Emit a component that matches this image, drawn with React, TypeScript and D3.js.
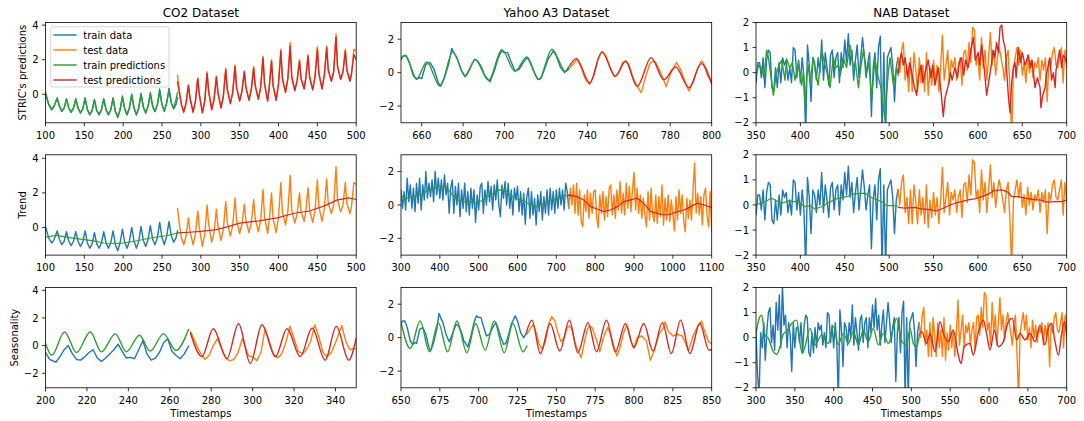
import React from "react";
import * as d3 from "d3";

type P = [number, number];

const BLUE = "#1f77b4";
const ORANGE = "#ff7f0e";
const GREEN = "#2ca02c";
const RED = "#d62728";

// ---------------- CO2 dataset ----------------
const co2TrainData: P[] = [
  [100, 0.05], [104, -0.6], [108, -0.9], [111, -0.7], [115, -0.2], [118, -0.7], [121, -1.0], [124, -0.8], [127, -0.25], [130, -0.8],
  [133, -1.05], [136, -0.8], [139, -0.25], [142, -0.8], [145, -1.1], [148, -0.85], [151, -0.2], [154, -0.9], [157, -1.2], [160, -0.95],
  [163, -0.3], [166, -0.95], [169, -1.2], [172, -0.9], [175, -0.25], [178, -0.9], [181, -1.2], [184, -0.9], [187, -0.2], [190, -1.0],
  [193, -1.35], [196, -0.9], [199, -0.1], [202, -0.85], [205, -1.2], [208, -0.8], [211, 0.0], [214, -0.8], [217, -1.2], [220, -0.8],
  [223, 0.05], [226, -0.75], [229, -1.1], [232, -0.7], [235, 0.1], [238, -0.7], [241, -1.0], [244, -0.6], [247, 0.3], [250, -0.6],
  [253, -1.0], [256, -0.5], [259, 0.35], [262, -0.5], [265, -0.85], [268, -0.6], [270, -0.2],
];
const co2TestData: P[] = [
  [270, 1.1], [272, 0.3], [275, -0.6], [278, -1.0], [281, -0.5], [284, 0.55], [286, -0.2], [290, -1.0], [293, -0.4], [296, 0.95],
  [298, 0.0], [302, -1.1], [305, -0.4], [308, 1.3], [310, 0.2], [314, -0.85], [317, -0.3], [320, 1.05], [322, 0.1], [326, -0.75],
  [329, -0.1], [332, 1.5], [334, 0.3], [338, -0.5], [341, 0.1], [344, 1.7], [346, 0.4], [350, -0.35], [353, 0.2], [356, 1.35],
  [358, 0.4], [362, -0.3], [365, 0.3], [368, 1.6], [370, 0.5], [374, -0.25], [377, 0.4], [380, 2.2], [382, 0.6], [386, -0.35],
  [388, 0.4], [391, 2.0], [393, 0.5], [397, -0.3], [400, 0.6], [403, 2.6], [405, 0.9], [409, 0.15], [412, 0.9], [415, 3.0],
  [417, 1.0], [421, 0.25], [424, 0.8], [427, 2.0], [429, 0.9], [433, 0.35], [435, 0.9], [438, 2.3], [440, 1.0], [444, 0.3],
  [447, 1.0], [450, 2.75], [452, 1.2], [456, 0.35], [459, 1.1], [462, 2.8], [464, 1.4], [468, 0.8], [471, 1.3], [474, 3.5],
  [476, 1.6], [480, 0.9], [483, 1.3], [486, 2.6], [488, 1.4], [492, 0.8], [494, 1.2], [497, 2.6], [500, 2.5],
];
const co2TrainPred: P[] = [
  [100, 0.1], [104, -0.55], [108, -0.85], [111, -0.7], [115, -0.25], [118, -0.7], [121, -0.95], [124, -0.8], [127, -0.3], [130, -0.8],
  [133, -1.0], [136, -0.8], [139, -0.3], [142, -0.8], [145, -1.05], [148, -0.85], [151, -0.25], [154, -0.9], [157, -1.15], [160, -0.95],
  [163, -0.35], [166, -0.95], [169, -1.15], [172, -0.9], [175, -0.3], [178, -0.9], [181, -1.15], [184, -0.9], [187, -0.25], [190, -1.0],
  [193, -1.3], [196, -0.9], [199, -0.2], [202, -0.85], [205, -1.15], [208, -0.8], [211, -0.05], [214, -0.8], [217, -1.15], [220, -0.8],
  [223, 0.0], [226, -0.75], [229, -1.05], [232, -0.7], [235, 0.0], [238, -0.7], [241, -1.0], [244, -0.6], [247, 0.1], [250, -0.6],
  [253, -0.95], [256, -0.5], [259, 0.2], [262, -0.5], [265, -0.8], [268, -0.3], [270, 0.1],
];
const co2TestPred: P[] = [
  [270, 0.7], [272, 0.2], [275, -0.6], [278, -1.05], [281, -0.5], [284, 0.5], [286, -0.2], [290, -1.05], [293, -0.4], [296, 0.9],
  [298, 0.0], [302, -1.05], [305, -0.4], [308, 1.2], [310, 0.2], [314, -0.9], [317, -0.3], [320, 1.0], [322, 0.1], [326, -0.8],
  [329, -0.1], [332, 1.4], [334, 0.3], [338, -0.55], [341, 0.1], [344, 1.6], [346, 0.4], [350, -0.4], [353, 0.2], [356, 1.3],
  [358, 0.4], [362, -0.35], [365, 0.3], [368, 1.5], [370, 0.5], [374, -0.3], [377, 0.4], [380, 2.1], [382, 0.6], [386, -0.4],
  [388, 0.4], [391, 1.9], [393, 0.5], [397, -0.35], [400, 0.6], [403, 2.5], [405, 0.9], [409, 0.1], [412, 0.9], [415, 2.8],
  [417, 1.0], [421, 0.2], [424, 0.8], [427, 1.9], [429, 0.9], [433, 0.3], [435, 0.9], [438, 2.2], [440, 1.0], [444, 0.25],
  [447, 1.0], [450, 2.6], [452, 1.2], [456, 0.3], [459, 1.1], [462, 2.7], [464, 1.4], [468, 0.75], [471, 1.3], [474, 3.3],
  [476, 1.6], [480, 0.85], [483, 1.3], [486, 2.5], [488, 1.4], [492, 0.75], [494, 1.2], [497, 2.3], [500, 2.0],
];
const co2TrainTrend: P[] = [
  [100, -0.57], [108, -0.5], [115, -0.46], [125, -0.55], [140, -0.65], [150, -0.7], [160, -0.76], [175, -0.9],
  [195, -0.93], [215, -0.8], [235, -0.61], [255, -0.48], [270, -0.33],
];
const co2TestTrend: P[] = [
  [270, -0.32], [285, -0.28], [300, -0.23], [320, -0.13], [335, 0.05], [350, 0.25], [375, 0.38], [400, 0.57],
  [420, 0.82], [440, 0.95], [460, 1.26], [475, 1.58], [490, 1.71], [500, 1.62],
];
const co2TrainSeasData: P[] = [
  [200, -0.5], [202, -1.0], [205, -1.2], [207, -0.8], [209, -0.3], [211, 0.0], [213, -0.6], [215, -1.0], [217, -1.05], [219, -0.8],
  [221, -0.5], [223, -0.3], [225, -0.9], [227, -1.15], [229, -0.9], [231, -0.6], [233, -0.3], [235, 0.1], [237, -0.4], [239, -0.9],
  [241, -0.85], [243, -0.95], [245, -0.3], [247, 0.35], [249, -0.6], [251, -1.05], [253, -0.9], [255, -0.5], [257, 0.2], [259, 0.5],
  [261, -0.4], [263, -0.7], [265, -0.95], [267, -0.6], [269, -0.05],
];
const co2TestSeasData: P[] = [
  [270, 1.0], [271, 0.7], [273, 0.0], [275, -0.6], [277, -1.0], [279, -0.7], [281, 0.0], [283, 0.5], [285, -0.2], [287, -0.9],
  [289, -1.1], [291, -1.0], [293, -0.5], [295, 0.5], [297, -0.3], [298, -0.75], [300, -0.8], [302, -1.1], [304, -0.5], [306, 1.2],
  [308, 0.3], [310, -0.6], [312, -0.9], [314, -0.6], [316, 0.2], [318, 1.4], [320, 0.5], [322, -0.4], [324, -0.6], [326, -0.3],
  [328, 0.3], [330, 1.5], [332, 0.6], [334, -0.5], [336, -0.8], [338, -0.5], [340, 0.2], [343, 1.45], [345, 0.3], [347, -0.3],
  [349, -0.2], [350, -0.25],
];
const co2TrainSeas: P[] = [
  [200, 0.15], [203, -0.7], [209.2, 0.98], [215, -0.5], [221.6, 0.98], [227, -0.45], [233.7, 0.85], [239, -0.45],
  [245.4, 0.75], [250.5, -0.4], [257, 0.85], [263, -0.35], [269, 1.15],
];
const co2TestSeas: P[] = [
  [270, 0.9], [275.5, -0.8], [281, 1.22], [287.6, -0.93], [293.2, 1.58], [298.9, -1.29], [304.5, 1.51], [311, -0.8],
  [316.6, 1.22], [323, -0.8], [328.7, 1.27], [335, -1.05], [340.4, 1.39], [346.4, -1.05], [350, 0.54],
];

// ---------------- Yahoo A3 dataset ----------------
const yahooTrainData: P[] = [
  [650, 0.8], [651, 1.0], [652.5, 1.0], [654, 0.6], [656, -0.2], [657.5, -0.4], [659, -0.3], [660, -0.35], [662, 0.5], [664, 0.6],
  [666, 0.2], [668, -0.6], [669, -0.8], [671, -0.3], [673, 0.5], [674.5, 1.45], [675.5, 1.2], [677, 0.9], [679, 0.2], [681, -0.25],
  [683, 0.2], [685.5, 0.8], [687, 0.7], [689, 0.3], [690.5, -0.2], [692, -0.4], [693, -0.55], [695, 0.1], [697, 0.9], [698.5, 1.3],
  [700, 1.2], [701.5, 1.2], [703, 0.7], [705, 0.1], [707, 0.2], [709, 0.6], [711, 0.9], [712, 0.7], [714, 0.1], [716, -0.4],
  [717.5, -0.35], [719, 0.1], [721, 0.8], [722.5, 1.1], [723.5, 1.3], [725, 1.0], [727, 0.3], [729, 0.0], [730, 0.15], [731, 0.35],
];
const yahooTestData: P[] = [
  [731, 0.2], [733, 0.5], [735, 0.8], [737, 0.3], [739, -0.4], [741, -0.7], [743, -0.2], [745, 0.8], [747, 1.25], [749, 1.0],
  [751, 0.3], [753, -0.25], [755, 0.0], [757, 0.6], [758.5, 0.7], [760, 0.5], [762, -0.3], [764, -0.8], [766, -1.2], [768, -0.3],
  [770, 0.5], [771.5, 0.7], [773, 0.6], [775, 0.1], [777, -0.5], [778, -0.85], [780, -0.1], [782, 0.4], [783, 0.6], [785, 0.2],
  [787, -0.5], [789, -1.1], [791, -0.6], [793, 0.2], [795, 0.7], [796, 0.6], [798, -0.2], [800, -0.6], [802, 0.0], [805, 0.1],
  [808, -0.2], [810.5, -1.35], [813, -0.8], [816, 0.2], [819, 0.6], [820, 0.95], [822, 0.4], [825, 0.1], [828, 0.2], [831, 0.1],
  [833, -0.3], [835, -0.8], [838, 0.1], [841, 0.7], [843.5, 1.0], [845, 0.5], [848, -0.25], [850, -0.35],
];
const yahooTrainPred: P[] = [
  [650, 0.84], [652, 1.04], [657.6, -0.36], [662.4, 0.64], [668.9, -0.82], [675, 1.24], [681, -0.22], [685.8, 0.78],
  [692.3, -0.46], [698.7, 1.38], [705, 0.08], [710.8, 0.94], [716.5, -0.42], [722.9, 1.4], [729.4, 0.08], [731, 0.2],
];
const yahooTestPred: P[] = [
  [731.5, 0.44], [734.7, 0.84], [741.1, -0.62], [747, 1.24], [753.5, -0.22], [758.4, 0.68], [764, -0.82], [770.8, 0.9],
  [776.9, -0.42], [782.6, 0.34], [789, -0.9], [795, 0.54], [800, -0.66],
];
// long Yahoo series (every 4 timestamps)
const yahooLongStart = 300;
const yahooLongStep = 4;
const yahooLongTrain: number[] = [
  0.9, -0.2, 0.8, -0.3, 1.6, 0.2, 1.2, -0.2, 1.0, -0.4,
  1.3, 0.1, 1.6, -0.3, 1.2, 0.3, 2.0, 0.4, 1.3, 0.5,
  1.5, 0.2, 2.0, 0.6, 1.6, 0.4, 1.5, 0.3, 1.8, 0.6,
  1.3, -0.5, 1.0, 1.5, -0.5, 1.1, 0.0, 1.3, -0.7, 0.9,
  -0.2, 1.3, -0.4, 0.8, -0.6, 1.0, -0.2, 0.9, -1.05, 0.6,
  -0.3, 1.1, 1.3, -0.5, 0.9, 0.0, 1.4, 0.2, 1.1, -0.3,
  1.2, 0.3, 1.5, 0.0, -0.7, 1.2, 0.4, 1.4, 0.0, 1.3,
  -0.2, 0.9, -0.6, 1.0, 0.3, 1.1, -0.4, 0.8, -0.6, 0.7,
  -1.15, 0.5, 1.0, -0.8, 0.8, -0.6, 0.4, -1.2, 0.6, -0.4,
  0.8, -0.9, 0.5, -0.5, 0.9, -0.6, 1.0, -0.3, 0.8, -0.5,
  0.9, -0.2, 1.0, 0.0, 0.9, -0.3, 1.3, 0.8, -0.2,
];
const yahooLongTestStart = 732;
const yahooLongTest: number[] = [
  -0.2, 1.0, 0.0, 1.2, -0.5, 1.3, -0.6, 0.9, -1.0, -1.3,
  0.6, -0.4, 0.9, -0.8, 0.7, -0.5, 0.8, 0.9, -0.8, -1.35,
  0.6, -0.5, 0.8, -0.9, 0.5, -0.7, 1.0, 1.2, -0.6, 0.6,
  -0.8, 0.9, -0.3, 1.4, -0.5, 0.7, -0.6, 1.3, -0.2, 1.1,
  -0.4, 0.9, 1.95, -0.3, 1.0, -0.5, 0.6, -0.8, 0.4, -0.6,
  -1.3, 0.8, -0.9, 1.0, -0.6, -1.0, 0.6, -1.1, 0.5, -0.7,
  1.2, -1.2, 0.4, -0.9, 0.6, -1.0, 0.3, -0.6, -1.55, 0.5,
  -0.9, 0.9, -0.5, 0.6, -1.0, -1.6, 0.4, -0.8, 0.3, -0.9,
  0.9, 2.5, -0.5, 0.7, -0.6, 0.5, -1.2, 0.6, 1.0, -0.6,
  -1.3, 0.8, -1.6,
];
const yahooTrainTrend: P[] = [
  [300, 0.6], [310, 0.36], [332, 0.5], [353, 0.6], [366, 0.84], [388, 1.04], [400, 1.16], [418, 1.0], [431, 0.64],
  [444, 0.3], [461, 0.2], [478, 0.2], [491, 0.1], [504, 0.2], [521, 0.5], [538, 0.7], [555, 0.9], [568, 0.9],
  [581, 0.6], [598, 0.36], [616, 0.24], [633, 0.0], [650, -0.1], [667, 0.1], [685, 0.3], [702, 0.4], [719, 0.54], [732, 0.56],
];
const yahooTestTrend: P[] = [
  [732, 0.6], [753, 0.5], [770, 0.3], [788, -0.1], [805, -0.24], [822, -0.4], [839, -0.3], [857, -0.1], [874, 0.2],
  [891, 0.3], [908, 0.4], [925, 0.1], [943, -0.4], [960, -0.5], [977, -0.6], [994, -0.56], [1012, -0.4], [1029, -0.3],
  [1046, -0.1], [1063, 0.1], [1080, 0.0], [1100, -0.16],
];
const yahooTrainSeas: P[] = [
  [650, 0.9], [656, -0.65], [662.3, 1.0], [668.3, -0.85], [674, 0.9], [680, -0.85], [686, 1.0], [692.4, -0.9],
  [698, 0.85], [704.2, -0.75], [710, 1.0], [716.5, -0.9], [722, 0.85], [728.5, -0.85], [731, -0.5],
];
const yahooTestSeas: P[] = [
  [731, 0.4], [734.3, 1.05], [739.7, -0.95], [746, 0.85], [752.2, -0.8], [758.4, 1.05], [763.8, -0.9], [770.4, 0.9],
  [775.8, -0.85], [782.3, 1.05], [788, -0.85], [794.5, 0.85], [799.9, -0.6], [806.3, 0.85], [812.2, -0.8], [818.2, 0.9],
  [824, -0.95], [830, 1.05], [836, -0.95], [842.3, 0.85], [848.3, -0.75], [850, -0.7],
];

// ---------------- NAB dataset (every 2 timestamps) ----------------
const nabTrainStart = 300;
const nabTestStart = 510;
const nabStep = 2;
const nabTrain: number[] = [
  0.2, -1.5, -2.3, 0.2, -0.4, 0.6, -0.9, 0.3, 1.0, 1.2, -0.2, 0.5, -0.5, 1.4, 0.3, 1.7, -0.4, 2.1, 0.5, 0.9, -0.4, 0.6, 0.1, -1.35, 0.6,
  -0.4, 0.4, 0.4, -0.2, 0.6, -0.6, 0.5, 0.9, 0.8, -0.6, -0.75, 0.2, -0.6, 0.4, -0.4, 0.6, 0.3, 0.5, -0.3, 0.2, -0.4, 1.0, 0.9, -0.2, 0.5,
  -0.4, 0.6, -0.2, -2.5, 1.1, 0.3, -1.15, 0.6, 0.4, -0.3, 0.6, 0.0, 1.3, -0.3, 0.8, 0.2, -0.5, 0.7, 0.9, -0.2, 0.6, 0.8, -0.4, 0.8, 0.2,
  1.3, 0.4, 1.55, 0.3, 0.9, -0.3, 0.5, 1.1, -0.2, 0.6, 1.4, 0.7, -0.2, 0.4, 0.8, -1.75, 0.2, 0.8, -0.6, 1.0, 1.45, -2.5, 0.8, -2.5, 0.6,
  0.8, 1.0, 0.3, -1.15, 0.2, 0.6,
];
const nabTest: number[] = [
  0.6, 0.0, 0.9, 1.2, -0.3, 0.3, -0.75, 0.6, -0.75, 0.8, 0.1, -0.75, 0.6, -0.4, 0.3, -0.75, 0.8, -0.9, 0.2, -0.5, 0.5, -0.4, 0.3, -0.75, 0.2,
  1.5, -0.3, 0.3, 0.9, -0.4, 0.5, 0.2, 0.6, -0.3, 0.3, 0.6, -0.5, 0.8, 0.9, 0.1, 1.2, 0.4, 1.8, 1.7, 0.3, 0.6, -0.3, 1.4, 0.2, 0.9,
  -0.3, 0.6, 1.6, 0.3, 0.9, -0.1, 0.6, 1.0, 0.6, 0.2, -0.3, 0.6, 0.9, -0.6, -2.5, 0.2, 0.6, 1.0, 0.3, 0.9, -0.1, 0.4, -0.4, 0.7, 0.0,
  0.5, -0.2, 0.4, 0.2, 0.6, -0.3, 0.5, 0.1, 0.6, -1.15, 0.5, 0.2, 0.8, 1.0, 0.3, 0.2, 0.6, 1.0, -0.4, 0.9, 0.2,
];
const nabTrainPred: P[] = [
  [350, -0.1], [353, 0.3], [356, 0.2], [359, -0.2], [362, 0.9], [364, 0.6], [367, -0.2], [369.5, -0.9], [373, 0.0], [376, 0.3],
  [379, 0.5], [382.7, -0.3], [384.5, 0.55], [388, 0.2], [391, 0.4], [394, -0.3], [397.7, 0.4], [401.4, -0.5], [403.3, 0.0], [405.2, -1.3],
  [407, -0.2], [409, 0.3], [410.8, -0.4], [414.6, 0.6], [417, 0.0], [420, -0.5], [424, 0.9], [427.8, 0.3], [430, 0.0], [433.4, -0.6],
  [437, 0.6], [440, 0.2], [442.7, 0.3], [445, -0.1], [448.3, 0.6], [452, 0.2], [454, 0.7], [455.9, 1.1], [459.7, 0.2], [462, 0.4],
  [465.4, -0.6], [468, 0.2], [471, 0.9], [474.7, 0.0], [477, 0.4], [480.3, -1.0], [484, 0.5], [487.8, -0.2], [490.8, -0.6], [493.4, -1.3],
  [495.3, -1.9], [497, -0.9], [499, 0.0], [501, 0.6], [504.8, -0.5], [508.5, 0.2], [510.3, -0.1],
];
const nabTestPred: P[] = [
  [510.3, 0.0], [512, 0.5], [514, 0.8], [516, 0.3], [518, 0.6], [521, -0.2], [523, 0.4], [525.4, 0.0], [528, -0.5], [531, -0.9],
  [533, -0.2], [536, 0.3], [538, -0.4], [540.4, 0.0], [544, 0.5], [547, -0.2], [549, 0.3], [551.6, -0.5], [555.4, 0.2], [558, -0.6],
  [561, -1.75], [563, -1.0], [566.7, -0.5], [569, 0.0], [571, -0.3], [574, 0.2], [577, -0.2], [579, 0.4], [581.5, 0.6], [584, -0.1],
  [586, 0.5], [589, 0.2], [592, 0.9], [594.8, 1.4], [597, 0.5], [600.5, 0.8], [602, 0.3], [604.2, 1.1], [607, 0.2], [609.8, -0.9],
  [612, -0.4], [615.5, 0.4], [617, 0.9], [619.2, 0.6], [621, 1.2], [623, 0.8], [624.9, 1.8], [626.8, 1.9], [628.5, 1.3], [630.6, 1.0],
  [632, 0.3], [634.4, -1.0], [636.2, -1.6], [638, -0.4], [640, 0.2], [641.8, 0.4], [643, -0.2], [645.6, 1.0], [648, 0.4], [650, 0.8],
  [653, 0.3], [656.8, 0.7], [659, 0.2], [661, 0.5], [664.3, -0.6], [667, -0.2], [670, -0.6], [671, -1.4], [673, -0.9], [675.6, -0.6],
  [677, -0.1], [679.3, 0.3], [681, 0.6], [683, -0.3], [685, 0.0], [686.9, -0.6], [688, 0.1], [690.6, 0.6], [692, 0.9], [694.4, 0.2],
  [696, 0.7], [698, 0.6], [700, 0.4],
];
const nabTrainTrend: P[] = [
  [350, 0.0], [360, 0.13], [367.6, 0.27], [371.4, 0.2], [379, 0.07], [386.4, 0.16], [394, 0.13], [399.6, 0.07], [405.2, -0.07],
  [410.8, -0.03], [416.5, -0.16], [424, -0.07], [431.5, 0.09], [439, 0.23], [446.7, 0.29], [452.3, 0.33], [458, 0.43],
  [465.4, 0.45], [473, 0.47], [478.4, 0.33], [484, 0.24], [491.6, 0.13], [497.2, -0.03], [502.8, -0.03], [509.6, -0.04],
];
const nabTestTrend: P[] = [
  [510.3, -0.1], [517.8, -0.13], [529, -0.1], [536.6, -0.16], [548, -0.2], [553.5, -0.24], [559, -0.16], [566.7, -0.03],
  [574.2, 0.07], [581.7, 0.13], [589, 0.2], [596.7, 0.24], [604.2, 0.33], [611.7, 0.43], [617.3, 0.56], [626.8, 0.6],
  [634.4, 0.5], [638, 0.33], [645.5, 0.33], [653, 0.27], [664.3, 0.2], [670, 0.2], [675.6, 0.13], [679.3, 0.11],
  [686.9, 0.13], [694.4, 0.13], [700, 0.2],
];
const nabTrainSeas: P[] = [
  [300, 0.17], [305, 0.84], [307.3, 0.9], [311.6, 0.1], [315.9, -0.03], [322.3, -0.56], [326.6, -0.67], [330.9, -0.36],
  [335, 0.13], [340.8, 0.3], [345.9, 0.57], [352.4, 0.7], [356.7, -0.23], [359.7, -0.63], [363, -0.36], [369.5, 0.37],
  [376, -0.29], [384.5, 0.1], [393, -0.23], [399.6, 0.44], [406, -0.27], [412.4, 0.17], [418.9, -0.23], [425.3, 0.24],
  [431.8, -0.29], [438.2, 0.3], [444.6, -0.16], [451, 0.37], [457.5, -0.29], [464, 0.17], [470.4, -0.23], [476.8, 0.37],
  [481, 0.77], [487.5, -0.16], [494, -0.29], [498.3, 0.37], [502.6, -0.23], [506.9, -0.36], [510, 0.04],
];
const nabTestSeas: P[] = [
  [510, 0.1], [513.3, 0.24], [519.7, -0.23], [524, 0.17], [530.5, -0.56], [536.9, 0.64], [541.2, 0.17], [547.6, -0.16],
  [554, 0.3], [560.5, -0.7], [564, -1.03], [568, -0.36], [575.5, -0.23], [579.8, -0.7], [586.3, 0.24], [592.7, 0.7],
  [597, 0.13], [601.3, -0.49], [606.9, 0.3], [612, -0.36], [618.5, -0.16], [624, 0.57], [630, 0.77], [635.6, -0.09],
  [640, 0.17], [646.4, -0.09], [652.8, 0.17], [659.2, -0.16], [665.7, 0.5], [672, -0.29], [676.4, 0.37], [680.7, 0.57],
  [685, -0.16], [689.3, -0.7], [693.6, 0.17], [697, 0.64], [700, 0.04],
];

// ---------------- layout tables ----------------
const columnTitles = ["CO2 Dataset", "Yahoo A3 Dataset", "NAB Dataset"];
const rowLabels = ["STRIC's predictions", "Trend", "Seasonality"];
const xLabel = "Timestamps";
const legendLabels = ["train data", "test data", "train predictions", "test predictions"];

const regular = (start: number, step: number, vals: number[]): P[] => vals.map((v, i) => [start + i * step, v] as P);

const yahooLongTrainPts = regular(yahooLongStart, yahooLongStep, yahooLongTrain);
const yahooLongTestPts = regular(yahooLongTestStart, yahooLongStep, yahooLongTest);
const nabTrainPts = regular(nabTrainStart, nabStep, nabTrain);
const nabTestPts = regular(nabTestStart, nabStep, nabTest);

type Series = { data: P[]; color: string; smooth?: boolean; width?: number };
type Panel = {
  row: number;
  col: number;
  xDomain: [number, number];
  yDomain: [number, number];
  xTicks: number[];
  yTicks: number[];
  series: Series[];
};

const range = (a: number, b: number, s: number) => d3.range(a, b + s / 2, s);

const panels: Panel[] = [
  {
    row: 0, col: 0, xDomain: [100, 500], yDomain: [-1.65, 4.15], xTicks: range(100, 500, 50), yTicks: [0, 2, 4],
    series: [
      { data: co2TrainData, color: BLUE }, { data: co2TestData, color: ORANGE },
      { data: co2TrainPred, color: GREEN }, { data: co2TestPred, color: RED },
    ],
  },
  {
    row: 0, col: 1, xDomain: [650, 800], yDomain: [-3, 3], xTicks: range(660, 800, 20), yTicks: [-2, 0, 2],
    series: [
      { data: yahooTrainData, color: BLUE }, { data: yahooTestData, color: ORANGE },
      { data: yahooTrainPred, color: GREEN, smooth: true }, { data: yahooTestPred, color: RED, smooth: true },
    ],
  },
  {
    row: 0, col: 2, xDomain: [350, 700], yDomain: [-2, 2], xTicks: range(350, 700, 50), yTicks: [-2, -1, 0, 1, 2],
    series: [
      { data: nabTrainPts, color: BLUE }, { data: nabTestPts, color: ORANGE },
      { data: nabTrainPred, color: GREEN }, { data: nabTestPred, color: RED },
    ],
  },
  {
    row: 1, col: 0, xDomain: [100, 500], yDomain: [-1.6, 4.2], xTicks: range(100, 500, 50), yTicks: [0, 2, 4],
    series: [
      { data: co2TrainData, color: BLUE }, { data: co2TestData, color: ORANGE },
      { data: co2TrainTrend, color: GREEN, width: 1.2 }, { data: co2TestTrend, color: RED, width: 1.2 },
    ],
  },
  {
    row: 1, col: 1, xDomain: [300, 1100], yDomain: [-3, 3], xTicks: range(300, 1100, 100), yTicks: [-2, 0, 2],
    series: [
      { data: yahooLongTrainPts, color: BLUE }, { data: yahooLongTestPts, color: ORANGE },
      { data: yahooTrainTrend, color: GREEN, width: 1.2 }, { data: yahooTestTrend, color: RED, width: 1.2 },
    ],
  },
  {
    row: 1, col: 2, xDomain: [350, 700], yDomain: [-2, 2], xTicks: range(350, 700, 50), yTicks: [-2, -1, 0, 1, 2],
    series: [
      { data: nabTrainPts, color: BLUE }, { data: nabTestPts, color: ORANGE },
      { data: nabTrainTrend, color: GREEN, width: 1.2 }, { data: nabTestTrend, color: RED, width: 1.2 },
    ],
  },
  {
    row: 2, col: 0, xDomain: [200, 350], yDomain: [-3.05, 4.2], xTicks: range(200, 340, 20), yTicks: [-2, 0, 2, 4],
    series: [
      { data: co2TrainSeasData, color: BLUE }, { data: co2TestSeasData, color: ORANGE },
      { data: co2TrainSeas, color: GREEN, smooth: true }, { data: co2TestSeas, color: RED, smooth: true },
    ],
  },
  {
    row: 2, col: 1, xDomain: [650, 850], yDomain: [-3, 3], xTicks: range(650, 850, 25), yTicks: [-2, 0, 2],
    series: [
      { data: yahooTrainData, color: BLUE }, { data: yahooTestData, color: ORANGE },
      { data: yahooTrainSeas, color: GREEN, smooth: true }, { data: yahooTestSeas, color: RED, smooth: true },
    ],
  },
  {
    row: 2, col: 2, xDomain: [300, 700], yDomain: [-2, 2], xTicks: range(300, 700, 50), yTicks: [-2, -1, 0, 1, 2],
    series: [
      { data: nabTrainPts, color: BLUE }, { data: nabTestPts, color: ORANGE },
      { data: nabTrainSeas, color: GREEN, smooth: true }, { data: nabTestSeas, color: RED, smooth: true },
    ],
  },
];

const W = 1084;
const H = 421;
const colLeft = [45.5, 401, 756];
const colWidth = 310.7;
const rowTop = [22.5, 154.8, 287.5];
const rowHeight = 100.3;
const FONT = "DejaVu Sans, sans-serif";

const fmt = (v: number) => (v < 0 ? "\u2212" + Math.abs(v) : String(v));

function PanelView({ p, idx }: { p: Panel; idx: number }) {
  const x0 = colLeft[p.col];
  const y0 = rowTop[p.row];
  const x = d3.scaleLinear().domain(p.xDomain).range([x0, x0 + colWidth]);
  const y = d3.scaleLinear().domain(p.yDomain).range([y0 + rowHeight, y0]);
  const clipId = `clip-${idx}`;
  return (
    <g>
      <defs>
        <clipPath id={clipId}>
          <rect x={x0} y={y0} width={colWidth} height={rowHeight} />
        </clipPath>
      </defs>
      <g clipPath={`url(#${clipId})`}>
        {p.series.map((s, i) => {
          const gen = d3
            .line<P>()
            .x((d) => x(d[0]))
            .y((d) => y(d[1]))
            .curve(s.smooth ? d3.curveMonotoneX : d3.curveLinear);
          return (
            <path key={i} d={gen(s.data) || ""} fill="none" stroke={s.color} strokeWidth={s.width ?? 1.4}
              strokeLinejoin="round" strokeLinecap="square" />
          );
        })}
      </g>
      <rect x={x0} y={y0} width={colWidth} height={rowHeight} fill="none" stroke="#000" strokeWidth={0.8} />
      {p.xTicks.map((t) => (
        <g key={"x" + t}>
          <line x1={x(t)} x2={x(t)} y1={y0 + rowHeight} y2={y0 + rowHeight + 3.5} stroke="#000" strokeWidth={0.8} />
          <text x={x(t)} y={y0 + rowHeight + 16.3} textAnchor="middle" fontSize={10} fontFamily={FONT} fill="#000">
            {fmt(t)}
          </text>
        </g>
      ))}
      {p.yTicks.map((t) => (
        <g key={"y" + t}>
          <line x1={x0 - 3.5} x2={x0} y1={y(t)} y2={y(t)} stroke="#000" strokeWidth={0.8} />
          <text x={x0 - 7} y={y(t)} dy="0.36em" textAnchor="end" fontSize={10} fontFamily={FONT} fill="#000">
            {fmt(t)}
          </text>
        </g>
      ))}
    </g>
  );
}

const legendColors = [BLUE, ORANGE, GREEN, RED];

export default function App() {
  const labelX = [22.5, 22.7, 14.5];
  return (
    <svg width={W} height={H} viewBox={`0 0 ${W} ${H}`} style={{ display: "block", position: "absolute", left: 0, top: 0 }}>
      <rect x={0} y={0} width={W} height={H} fill="#fff" />
      {panels.map((p, i) => (
        <PanelView key={i} p={p} idx={i} />
      ))}
      {columnTitles.map((t, c) => (
        <text key={t} x={colLeft[c] + colWidth / 2} y={16.7} textAnchor="middle" fontSize={12} fontFamily={FONT} fill="#000">
          {t}
        </text>
      ))}
      {rowLabels.map((t, r) => (
        <text key={t} transform={`translate(${labelX[r] + 3.6},${rowTop[r] + rowHeight / 2}) rotate(-90)`}
          textAnchor="middle" fontSize={10} fontFamily={FONT} fill="#000">
          {t}
        </text>
      ))}
      {[0, 1, 2].map((c) => (
        <text key={c} x={colLeft[c] + colWidth / 2} y={416.5} textAnchor="middle" fontSize={10} fontFamily={FONT} fill="#000">
          {xLabel}
        </text>
      ))}
      <g>
        <rect x={50.7} y={26.7} width={118.3} height={60.3} rx={2.5} fill="#fff" fillOpacity={0.8} stroke="#cccccc" strokeWidth={0.8} />
        {legendLabels.map((l, i) => (
          <g key={l}>
            <line x1={53.3} x2={76.7} y1={35 + i * 15} y2={35 + i * 15} stroke={legendColors[i]} strokeWidth={1.4} />
            <text x={83.3} y={35 + i * 15} dy="0.36em" fontSize={10} fontFamily={FONT} fill="#000">
              {l}
            </text>
          </g>
        ))}
      </g>
    </svg>
  );
}
